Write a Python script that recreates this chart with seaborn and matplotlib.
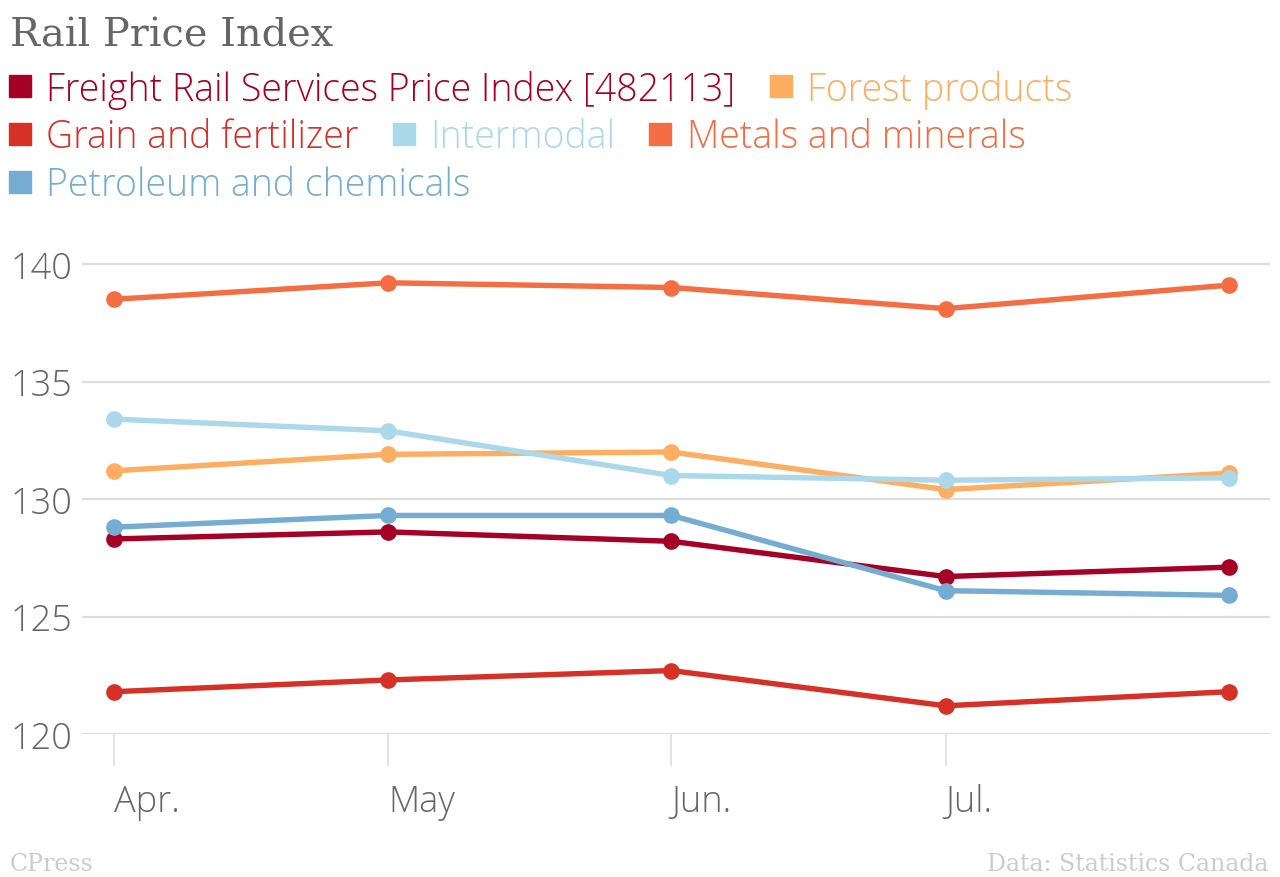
import pandas as pd
import matplotlib.pyplot as plt
import seaborn as sns
from matplotlib.lines import Line2D

# ===================== DATA =====================
dates = pd.to_datetime(["2015-04-01", "2015-05-01", "2015-06-01", "2015-07-01", "2015-08-01"])
tick_labels = ["Apr.", "May", "Jun.", "Jul."]

series_names = [
    "Freight Rail Services Price Index [482113]",
    "Forest products",
    "Grain and fertilizer",
    "Intermodal",
    "Metals and minerals",
    "Petroleum and chemicals",
]
freight   = [128.3, 128.6, 128.2, 126.7, 127.1]
forest    = [131.2, 131.9, 132.0, 130.4, 131.1]
grain     = [121.8, 122.3, 122.7, 121.2, 121.8]
intermod  = [133.4, 132.9, 131.0, 130.8, 130.9]
metals    = [138.5, 139.2, 139.0, 138.1, 139.1]
petroleum = [128.8, 129.3, 129.3, 126.1, 125.9]

colors = ["#a50026", "#fdae61", "#d73027", "#abd9e9", "#f46d43", "#74add1"]

values = [freight, forest, grain, intermod, metals, petroleum]
df = pd.concat(
    [pd.DataFrame({"date": dates, "value": v, "series": n}) for n, v in zip(series_names, values)],
    ignore_index=True,
)

# ===================== PLOT =====================
sns.set_style("white")
plt.rcParams["font.family"] = ["Open Sans", "DejaVu Sans"]
plt.rcParams["font.weight"] = 300

fig = plt.figure(figsize=(12.8, 8.78), dpi=100)
ax = fig.add_axes([82 / 1280, 1 - 735 / 878, 1188 / 1280, (735 - 241.5) / 878])

sns.lineplot(data=df, x="date", y="value", hue="series", hue_order=series_names,
             palette=colors, marker="o", markersize=12, markeredgewidth=0,
             linewidth=3.9, legend=False, ax=ax)

ax.set_ylim(120, 141)
ax.set_yticks([120, 125, 130, 135, 140])
ax.set_xlim(dates[0] - pd.Timedelta(days=3.5), dates[-1] + pd.Timedelta(days=4.5))
ax.set_xticks(dates[:4], labels=tick_labels)
for lab in ax.get_xticklabels():
    lab.set_horizontalalignment("left")

ax.set_xlabel("")
ax.set_ylabel("")
ax.grid(axis="y", color="#dddddd", linewidth=1.6)
ax.grid(axis="x", visible=False)
ax.set_axisbelow(True)
for s in ax.spines.values():
    s.set_visible(False)

ax.tick_params(axis="x", length=23, width=1.2, color="#dddddd", pad=12,
               labelsize=26, labelcolor="#666666", direction="out", bottom=True)
ax.tick_params(axis="y", length=0, pad=7, labelsize=26, labelcolor="#666666")
for lab in ax.get_xticklabels() + ax.get_yticklabels():
    lab.set_fontweight(300)

# ===================== LEGEND (flow layout in rows) =====================
rows = [[0, 1], [2, 3, 4], [5]]
row_y = [90, 138, 186]
for idx, y in zip(rows, row_y):
    handles = [Line2D([], [], marker="s", linestyle="", markersize=16.5,
                      color=colors[i]) for i in idx]
    fig.legend(handles, [series_names[i] for i in idx],
               loc="center left", bbox_to_anchor=(9 / 1280, 1 - y / 878),
               ncol=len(idx), frameon=False, borderpad=0, borderaxespad=0,
               handlelength=0.6, handletextpad=0.4, columnspacing=0.9,
               labelcolor="linecolor", prop={"family": "Open Sans", "size": 27, "weight": 300})

# ===================== TITLE / FOOTER =====================
fig.text(10 / 1280, 1 - 36 / 878, "Rail Price Index", family="DejaVu Serif",
         size=28.7, color="#666666", va="center", ha="left")
fig.text(10 / 1280, 1 - 865 / 878, "CPress", family="DejaVu Serif",
         size=17, color="#cccccc", va="center", ha="left")
fig.text(1268 / 1280, 1 - 865 / 878, "Data: Statistics Canada", family="DejaVu Serif",
         size=17, color="#cccccc", va="center", ha="right")

fig.savefig("out.png", dpi=100)
